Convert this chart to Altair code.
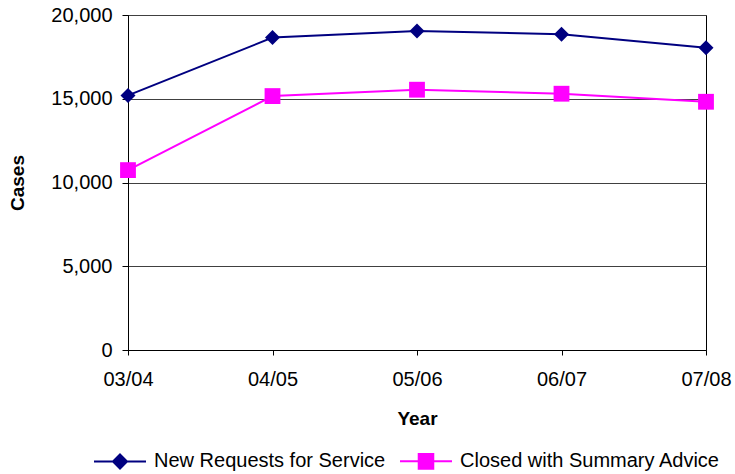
import altair as alt
import pandas as pd

years = ["03/04", "04/05", "05/06", "06/07", "07/08"]
new_requests = [15200, 18650, 19050, 18850, 18050]
closed_summary = [10740, 15160, 15540, 15300, 14820]
series = ["New Requests for Service", "Closed with Summary Advice"]
colors = ["#000080", "#FF00FF"]
markers = ["diamond", "square"]
marker_sizes = [225, 250]
y_ticks = [0, 5000, 10000, 15000, 20000]


def diamond_rings(halves):
    return "".join(
        f"M0,-{h}L{h},0L0,{h}L-{h},0Z" for h in halves
    )


def square_rings(halves):
    return "".join(
        f"M-{h},-{h}H{h}V{h}H-{h}Z" for h in halves
    )


# legend glyphs: a short line with a solid series marker in the middle
# (the marker is built from nested outlines so the stroke colour fills it)
legend_glyphs = [
    "M-1,0H1" + diamond_rings([0.27, 0.21, 0.15, 0.09, 0.04]) + "M0,-0.04V0.04",
    "M-1,0H1" + square_rings([0.28, 0.22, 0.16, 0.10, 0.04]) + "M0,-0.04V0.04",
]

rows = []
for yr, a, b in zip(years, new_requests, closed_summary):
    rows.append({"Year": yr, "Series": series[0], "Cases": a})
    rows.append({"Year": yr, "Series": series[1], "Cases": b})
df = pd.DataFrame(rows)

FONT = "Liberation Sans"

x_enc = alt.X(
    "Year:O",
    sort=years,
    scale=alt.Scale(type="point", padding=0),
    axis=alt.Axis(
        title="Year", labelAngle=0, grid=False, tickSize=5, labelPadding=14,
        titlePadding=20,
    ),
)
y_enc = alt.Y(
    "Cases:Q",
    scale=alt.Scale(domain=[0, 20000], nice=False),
    axis=alt.Axis(
        title="Cases", values=y_ticks, format=",d", tickSize=6, labelPadding=10,
        titlePadding=23, grid=True,
    ),
)

base = alt.Chart(df)

# one line + marker layer per series
layers = []
for name, col in zip(series, colors):
    layers.append(
        base.transform_filter(alt.datum.Series == name)
        .mark_line(color=col, strokeWidth=2)
        .encode(x=x_enc, y=y_enc)
    )
for name, col, shp, sz in zip(series, colors, markers, marker_sizes):
    layers.append(
        base.transform_filter(alt.datum.Series == name)
        .mark_point(shape=shp, filled=True, size=sz, opacity=1, color=col)
        .encode(x=x_enc, y=y_enc)
    )

# invisible layer that only carries the legend
legend_layer = (
    base.mark_point(filled=True, opacity=0)
    .encode(
        x=x_enc,
        y=y_enc,
        fill=alt.Fill(
            "Series:N", scale=alt.Scale(domain=series, range=colors), title=None,
            legend=alt.Legend(
                orient="none", legendX=-35, legendY=419, direction="horizontal",
                symbolSize=2704, symbolStrokeWidth=2, symbolOpacity=1,
                labelOffset=7, columnPadding=10, padding=0, labelLimit=400,
            ),
        ),
        stroke=alt.Stroke(
            "Series:N", scale=alt.Scale(domain=series, range=colors), title=None
        ),
        shape=alt.Shape(
            "Series:N", scale=alt.Scale(domain=series, range=legend_glyphs), title=None
        ),
    )
)
layers.append(legend_layer)

chart = (
    alt.layer(*layers)
    .properties(
        width=578, height=335,
        autosize=alt.AutoSizeParams(type="none"),
        padding={"left": 128, "top": 15, "right": 29, "bottom": 124},
        background="#ffffff",
    )
    .configure_view(stroke="#000000", strokeWidth=1)
    .configure_axis(
        domainColor="#000000", tickColor="#000000", gridColor="#404040",
        gridWidth=1, labelFont=FONT, labelFontSize=20, labelColor="#000000",
        titleFont=FONT, titleFontSize=19, titleFontWeight="bold",
        titleColor="#000000",
    )
    .configure_legend(labelFont=FONT, labelFontSize=20, labelColor="#000000",
                      labelLimit=400)
)

chart.save("out.html", embed_options={"renderer": "svg", "actions": False})
